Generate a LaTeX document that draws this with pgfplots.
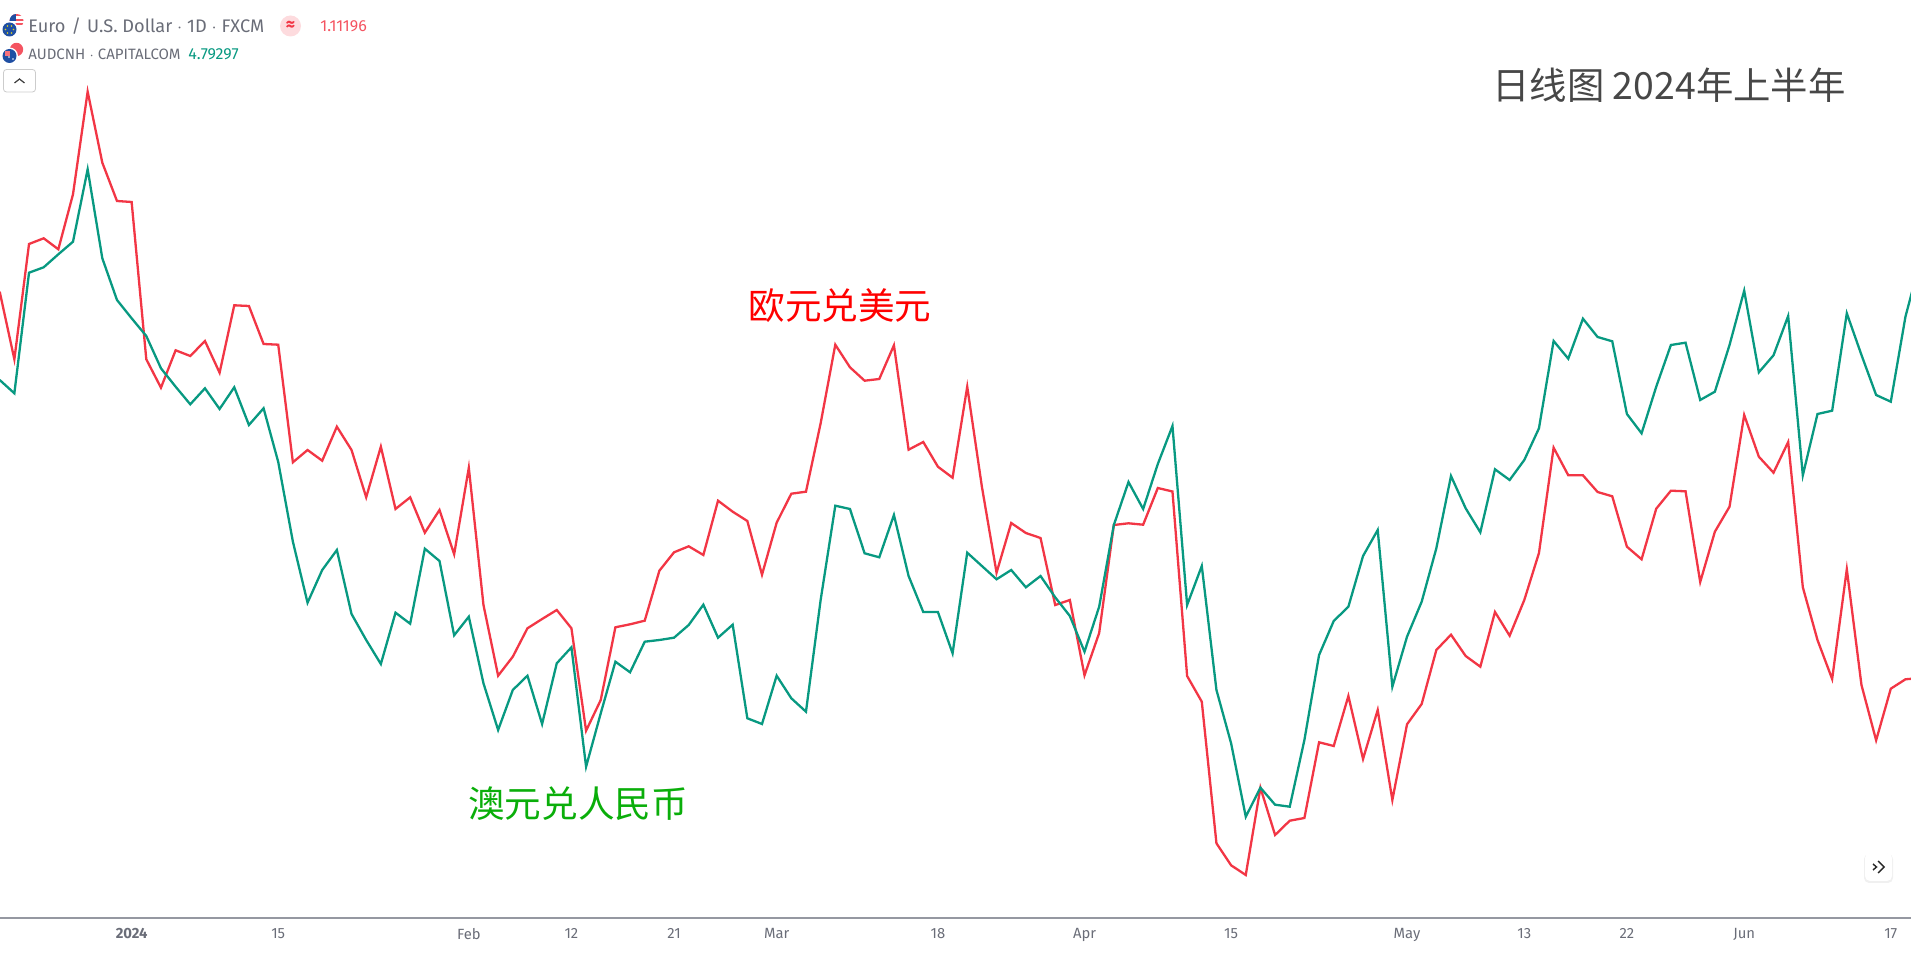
\documentclass[border=0pt]{standalone}
\usepackage{fontspec}
\usepackage{pgfplots}
\usepackage{pgfplotstable}
\pgfplotsset{compat=1.18}
\setmainfont{Fira Sans}
\newfontfamily\cjk{Noto Sans CJK SC}
\definecolor{eurred}{HTML}{F23645}
\definecolor{audgreen}{HTML}{089981}
\definecolor{txtgray}{HTML}{6A6D78}
\definecolor{axisgray}{HTML}{9598A1}
\definecolor{flagblue}{HTML}{1F4FA3}
% n = trading day index, values are read as pixel rows of the chart
\pgfplotstableread{
n red green
0 291.7 380
1 359.3 393.3
2 244 272.7
3 238.3 267.3
4 249.3 254.3
5 194.3 241.7
6 91.7 169.3
7 162.7 258.3
8 201 300
9 202 318.3
10 359.3 336
11 387.7 368.3
12 350.3 386.7
13 356 404.3
14 341 388.3
15 372.7 409
16 305.3 387.3
17 306 425
18 344 408.3
19 344.7 462
20 462.3 541.7
21 450 602.7
22 460.7 570
23 426.7 550
24 450 614
25 497.3 640
26 446.7 664
27 509 612.7
28 497.3 623.7
29 532.7 548.7
30 510 561
31 554.3 635.3
32 467.7 616.7
33 605 683.3
34 675.7 730
35 656.7 690
36 628.3 675.7
37 619 724
38 610 663.3
39 628.3 647.3
40 730.7 766.7
41 700 713.3
42 627.3 661.7
43 624.3 672.3
44 620.7 641.7
45 570.7 640
46 552.3 637.7
47 546.3 625
48 555 604.7
49 500.7 637.7
50 511.7 624.7
51 521 718.3
52 574.7 724
53 522.7 675.7
54 493.7 698.3
55 491.7 711.7
56 423.3 600
57 344.7 505.7
58 367.3 509
59 380.7 553.3
60 379 557.3
61 345.3 515
62 449.7 576
63 442 612
64 466.7 612
65 477.7 653.3
66 386.7 552.7
67 486.7 566
68 572.7 579.3
69 523 570
70 533 587.3
71 538 576
72 605 597.3
73 600 616
74 675.3 651.7
75 633 606.7
76 525 525
77 523.3 482
78 524.7 509
79 488 464
80 491.5 426
81 676 605
82 701.7 566
83 843.3 690
84 865.3 743.3
85 875 816.7
86 787.7 787.7
87 835 804.7
88 820.7 806.7
89 818 740
90 742.3 655
91 746 621
92 696 606.7
93 759 556
94 710 530
95 800 686.7
96 724.3 636.7
97 704 601.7
98 650 548.3
99 634.7 476
100 656 508.3
101 666.7 532.3
102 612 469.3
103 635.7 480
104 600 460
105 553 428.3
106 447.7 341
107 475.3 358.7
108 475.3 318.7
109 492 337
110 496.3 341.3
111 546.7 414
112 559.3 433.3
113 508.7 386.7
114 490.7 345
115 491.3 342.7
116 582 400
117 531.7 391.7
118 506.7 345
119 415 290.7
120 456.7 372.3
121 472.7 355.3
122 442 316
123 587.3 475.3
124 640 414
125 679 410.7
126 569.3 313.3
127 685 355
128 740.3 395
129 688.7 401.7
130 679.3 316.7
131 678 261.3
}\ratedata
\begin{document}
\begin{tikzpicture}
\useasboundingbox (0,0) rectangle (955.5pt,476.5pt);
\begin{axis}[
  at={(0,17.5pt)}, anchor=south west,
  scale only axis, width=955.5pt, height=459pt,
  xmin=0.02, xmax=130.38, ymin=0, ymax=918,
  axis x line*=bottom, axis y line=none,
  axis line style={axisgray,line width=0.6pt,-},
  xtick={9,19,32,39,46,53,64,74,84,96,104,111,119,129},
  xticklabels={\textbf{2024},15,Feb,12,21,Mar,18,Apr,15,May,13,22,Jun,17},
  major tick length=0pt,
  tick label style={font=\fontsize{7.4}{8}\selectfont,text=txtgray,yshift=-1.6pt},
  /pgf/number format/assume math mode=true,
]
\addplot[eurred,line width=1.15pt,line join=miter] table[x=n,y expr=918-\thisrow{red}] {\ratedata};
\addplot[audgreen,line width=1.15pt,line join=miter] table[x=n,y expr=918-\thisrow{green}] {\ratedata};
\end{axis}
\begin{scope}[shift={(0,476.5pt)},x=0.5pt,y=-0.5pt]
  % header icons
  \begin{scope}
    \clip (16.5,21) circle (7);
    \fill[white] (9,14) rectangle (24,28);
    \fill[eurred!85] (9,14) rectangle (24,16.5);
    \fill[eurred!85] (9,19) rectangle (24,21);
    \fill[eurred!85] (9,23.5) rectangle (24,25.5);
    \fill[flagblue] (9,14) rectangle (16,21);
  \end{scope}
  \fill[white] (9.5,29.5) circle (8.5);
  \fill[flagblue] (9.5,29.5) circle (7);
  \foreach \a in {0,60,...,300} \fill[yellow!85!black] (9.5,29.5) ++(\a:4) circle (0.8);
  \fill[eurred!85] (16.5,49.5) circle (6.7);
  \fill[white] (9.5,56) circle (8.5);
  \fill[flagblue] (9.5,56) circle (7);
  \fill[eurred!70] (5,51) rectangle (10,56);
  \fill[white] (9,57) circle (0.9);
  \fill[white] (13,59) circle (0.9);
  % header text
  \node[anchor=west,inner sep=0,text=txtgray,font=\fontsize{9.1}{10}\selectfont] at (28,26) {Euro\,\,/\,\,U.S. Dollar $\cdot$ 1D $\cdot$ FXCM};
  \fill[eurred!18] (290.5,26) circle (10.5);
  \node[text=eurred,inner sep=0,font=\fontsize{9}{10}\selectfont\bfseries] at (290.5,26) {≈};
  \node[anchor=west,inner sep=0,text=eurred!85,font=\fontsize{8}{9}\selectfont] at (320,26) {1.11196};
  \node[anchor=west,inner sep=0,text=txtgray,font=\fontsize{7.5}{9}\selectfont] at (28,54) {AUDCNH $\cdot$ CAPITALCOM};
  \node[anchor=west,inner sep=0,text=audgreen,font=\fontsize{8}{9}\selectfont] at (188,54) {4.79297};
  % collapse button
  \draw[gray!40,line width=0.4pt,rounded corners=1.5pt,fill=white] (3.5,69.5) rectangle (35.5,92);
  \draw[black!75,line width=0.6pt] (14.5,83) -- (19.5,79) -- (24.5,83);
  % scroll button
  \fill[gray!12,rounded corners=2.5pt] (1864,854) rectangle (1893,883);
  \fill[white,rounded corners=2.5pt] (1865,853) rectangle (1892,881);
  \draw[black!85,line width=0.7pt] (1878,861) -- (1884,867) -- (1878,873);
  \draw[black!85,line width=0.7pt] (1873,864) -- (1876.5,867) -- (1873,870);
  % annotations
  \node[anchor=center,inner sep=0,text=black!72,font=\fontsize{18.7}{22}\selectfont\cjk] at (1669,85.5) {日线图 2024年上半年};
  \node[anchor=center,inner sep=0,text=red,font=\fontsize{18.3}{22}\selectfont\cjk] at (840,306) {欧元兑美元};
  \node[anchor=center,inner sep=0,text={rgb,255:red,10;green,174;blue,10},font=\fontsize{18.3}{22}\selectfont\cjk] at (578,803.5) {澳元兑人民币};
\end{scope}
\end{tikzpicture}
\end{document}
